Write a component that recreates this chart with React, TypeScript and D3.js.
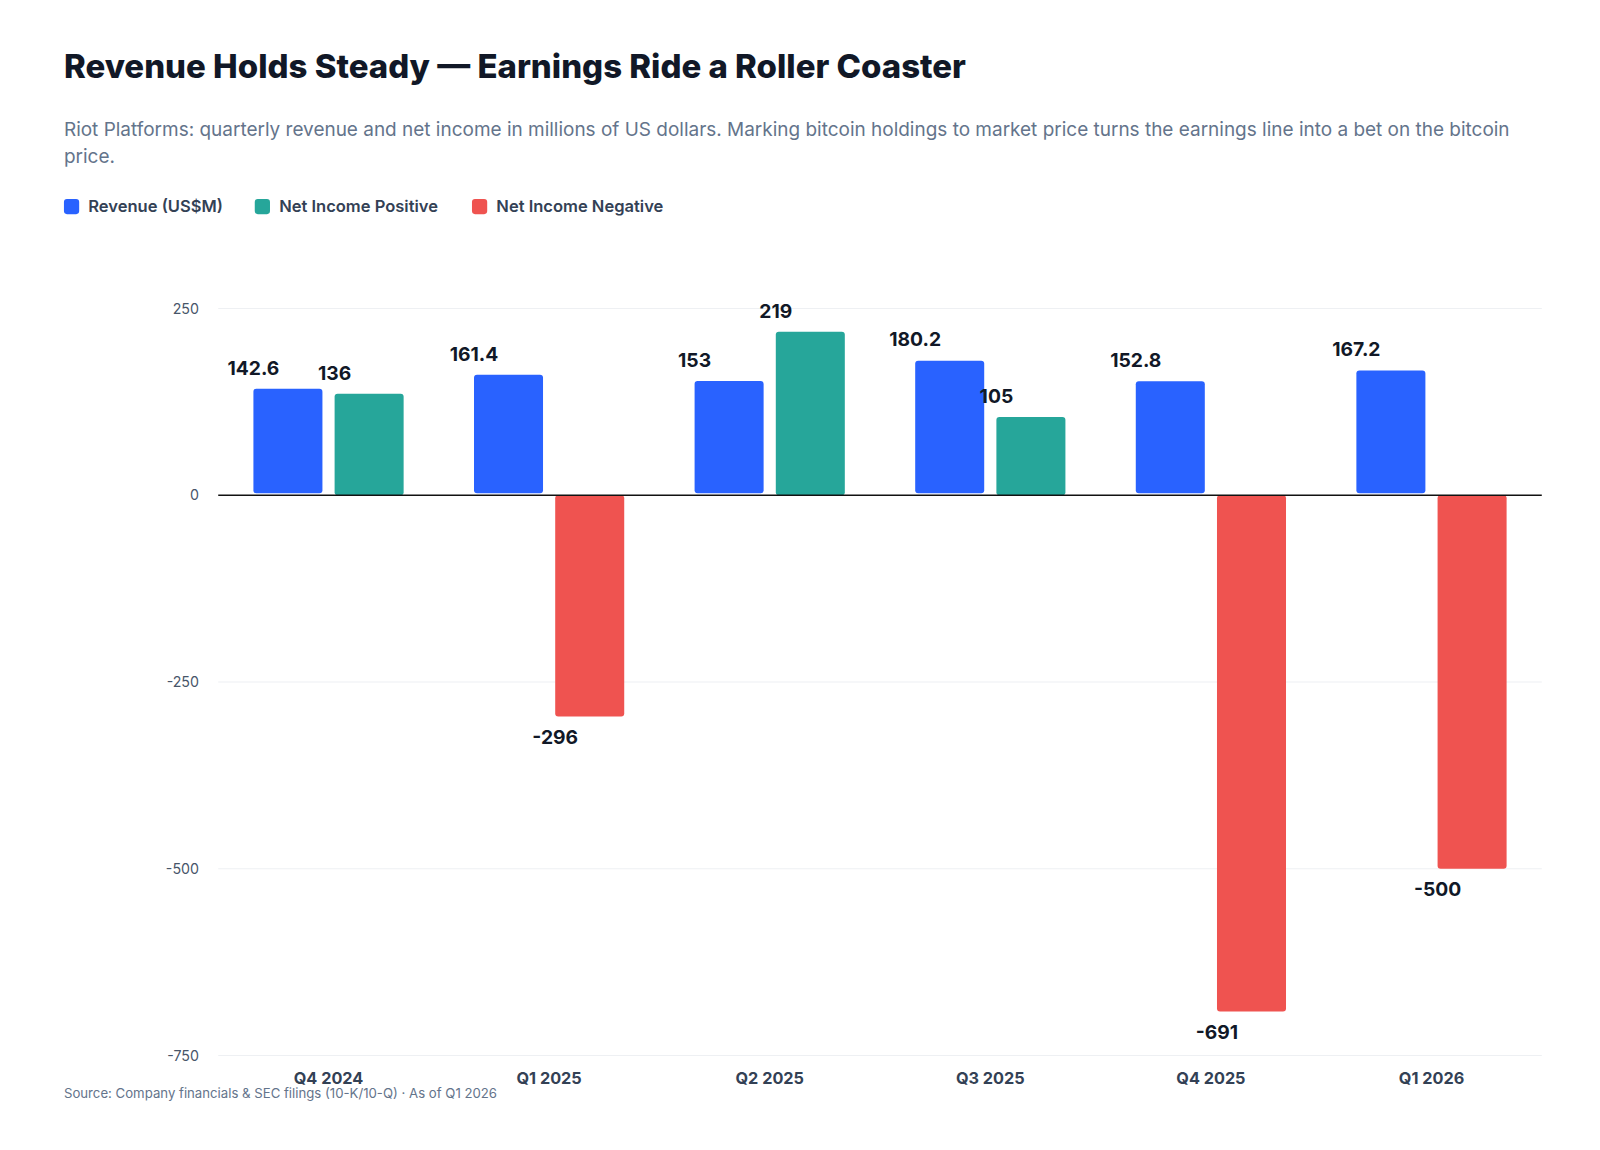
import * as d3 from "d3";

const quarters = ["Q4 2024", "Q1 2025", "Q2 2025", "Q3 2025", "Q4 2025", "Q1 2026"];
const revenue = [142.6, 161.4, 153, 180.2, 152.8, 167.2];
const netIncome = [136, -296, 219, 105, -691, -500];
const yTicks = [250, 0, -250, -500, -750];

const W = 1600;
const H = 1150;
const K = 1.015;
const M = { left: 215, right: 81 };
const FONT = "Inter, 'Noto Sans', sans-serif";

const BLUE = "#2962ff";
const TEAL = "#26a69a";
const RED = "#ef5350";

export default function App() {
  const x = d3.scaleBand<string>().domain(quarters).range([M.left, W - M.right]);
  const y = d3.scaleLinear().domain([-750, 250]).range([1040, 304]);
  const barW = 68;
  const gap = 12;

  const legend = [
    { label: "Revenue (US$M)", color: BLUE, x: 63 },
    { label: "Net Income Positive", color: TEAL, x: 251 },
    { label: "Net Income Negative", color: RED, x: 465 },
  ];

  return (
    <svg width={W} height={H} style={{ position: "absolute", left: 0, top: 0, fontFamily: FONT }}>
      <rect width={W} height={H} fill="#fff" />
      <g transform={`scale(${K})`}>
        <text x={63} y={77} fontSize={32.5} fontWeight={800} fill="#111827">
          Revenue Holds Steady — Earnings Ride a Roller Coaster
        </text>
        <text x={63} y={134} fontSize={18.7} fill="#64748b">
          Riot Platforms: quarterly revenue and net income in millions of US dollars. Marking bitcoin holdings to market price turns the earnings line into a bet on the bitcoin
        </text>
        <text x={63} y={161} fontSize={18.7} fill="#64748b">price.</text>
        {legend.map((l) => (
          <g key={l.label}>
            <rect x={l.x} y={196} width={15} height={15} rx={3} fill={l.color} />
            <text x={l.x + 24} y={209} fontSize={16.3} fontWeight={600} fill="#334155">{l.label}</text>
          </g>
        ))}

        {yTicks.map((t) => (
          <g key={t}>
            {t !== 0 && <line x1={M.left} x2={W - M.right} y1={y(t)} y2={y(t)} stroke="#eef0f3" />}
            <text x={196} y={y(t) + 5} fontSize={14} fill="#475569" textAnchor="end">{t}</text>
          </g>
        ))}

        {quarters.map((q, i) => {
          const c = x(q)! + x.bandwidth() / 2;
          const rx = c - gap / 2 - barW;
          const nx = c + gap / 2;
          const n = netIncome[i];
          return (
            <g key={q}>
              <rect x={rx} y={y(revenue[i])} width={barW} height={y(0) - y(revenue[i]) - 2} rx={3} fill={BLUE} />
              <rect
                x={nx}
                y={n >= 0 ? y(n) : y(0)}
                width={barW}
                height={Math.abs(y(n) - y(0))}
                rx={3}
                fill={n >= 0 ? TEAL : RED}
              />
              <text x={rx} y={y(revenue[i]) - 14} fontSize={19} fontWeight={700} fill="#111827" textAnchor="middle">
                {revenue[i]}
              </text>
              <text x={nx} y={n >= 0 ? y(n) - 14 : y(n) + 27} fontSize={19} fontWeight={700} fill="#111827" textAnchor="middle">
                {n}
              </text>
              <text x={c} y={1068} fontSize={16} fontWeight={700} fill="#334155" textAnchor="middle">{q}</text>
            </g>
          );
        })}
        <line x1={M.left} x2={W - M.right} y1={y(0)} y2={y(0)} stroke="#111" strokeWidth={1.5} />
        <text x={63} y={1082} fontSize={13} fill="#64748b">
          Source: Company financials &amp; SEC filings (10-K/10-Q) · As of Q1 2026
        </text>
      </g>
    </svg>
  );
}
